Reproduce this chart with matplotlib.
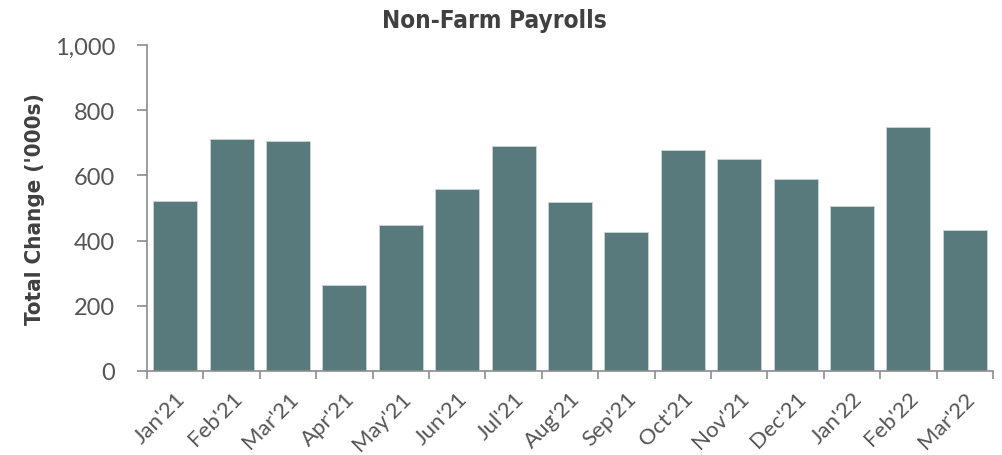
import matplotlib.pyplot as plt
import numpy as np
from matplotlib.ticker import FuncFormatter, FixedLocator

# --- data ---
months = ["Jan'21", "Feb'21", "Mar'21", "Apr'21", "May'21", "Jun'21", "Jul'21", "Aug'21",
          "Sep'21", "Oct'21", "Nov'21", "Dec'21", "Jan'22", "Feb'22", "Mar'22"]
payrolls = [521, 712, 705, 264, 448, 558, 690, 518, 426, 678, 650, 589, 506, 750, 432]

bar_color = "#587a7c"
axis_gray = "#8c8c8c"
text_gray = "#555555"
tick_font = ["Lato", "DejaVu Sans"]

fig = plt.figure(figsize=(10.03, 4.56), dpi=100)
ax = fig.add_axes([147 / 1003, 1 - 372 / 456, (993 - 147) / 1003, (372 - 46) / 456])

x = np.arange(len(months))
ax.bar(x, payrolls, width=0.78, color=bar_color, edgecolor="#c9d6d6", linewidth=0.6, zorder=2)

ax.set_xlim(-0.5, len(months) - 0.5)
ax.set_ylim(0, 1000)
ax.set_yticks(np.arange(0, 1001, 200))
ax.yaxis.set_major_formatter(FuncFormatter(lambda v, p: f"{int(v):,}"))

# category ticks at bar boundaries, labels centred on bars
ax.xaxis.set_major_locator(FixedLocator(np.arange(-0.5, len(months), 1.0)))
ax.xaxis.set_major_formatter(FuncFormatter(lambda v, p: ""))
ax.set_xticks(x, minor=True)
ax.set_xticklabels(months, minor=True, rotation=45, ha="right", rotation_mode="anchor",
                   fontsize=16, color=text_gray, family=tick_font)
ax.tick_params(axis="x", which="minor", length=0, pad=12)
ax.tick_params(axis="x", which="major", length=6, width=1.2, color=axis_gray, direction="out")
ax.tick_params(axis="y", length=7, width=1.2, color=axis_gray, labelsize=17,
               labelcolor=text_gray, pad=16)
for lab in ax.get_yticklabels():
    lab.set_family(tick_font)

for side in ["top", "right"]:
    ax.spines[side].set_visible(False)
for side in ["left", "bottom"]:
    ax.spines[side].set_color(axis_gray)
    ax.spines[side].set_linewidth(1.2)

ax.set_ylabel("Total Change ('000s)", fontsize=16, fontweight="bold", color="#404040",
              fontstretch="condensed", labelpad=7)
fig.text(494 / 1003, 1 - 21 / 456, "Non-Farm Payrolls", ha="center", va="center",
         fontsize=17.5, fontweight="bold", color="#404040", fontstretch="condensed")

fig.savefig("out.png", dpi=100)
